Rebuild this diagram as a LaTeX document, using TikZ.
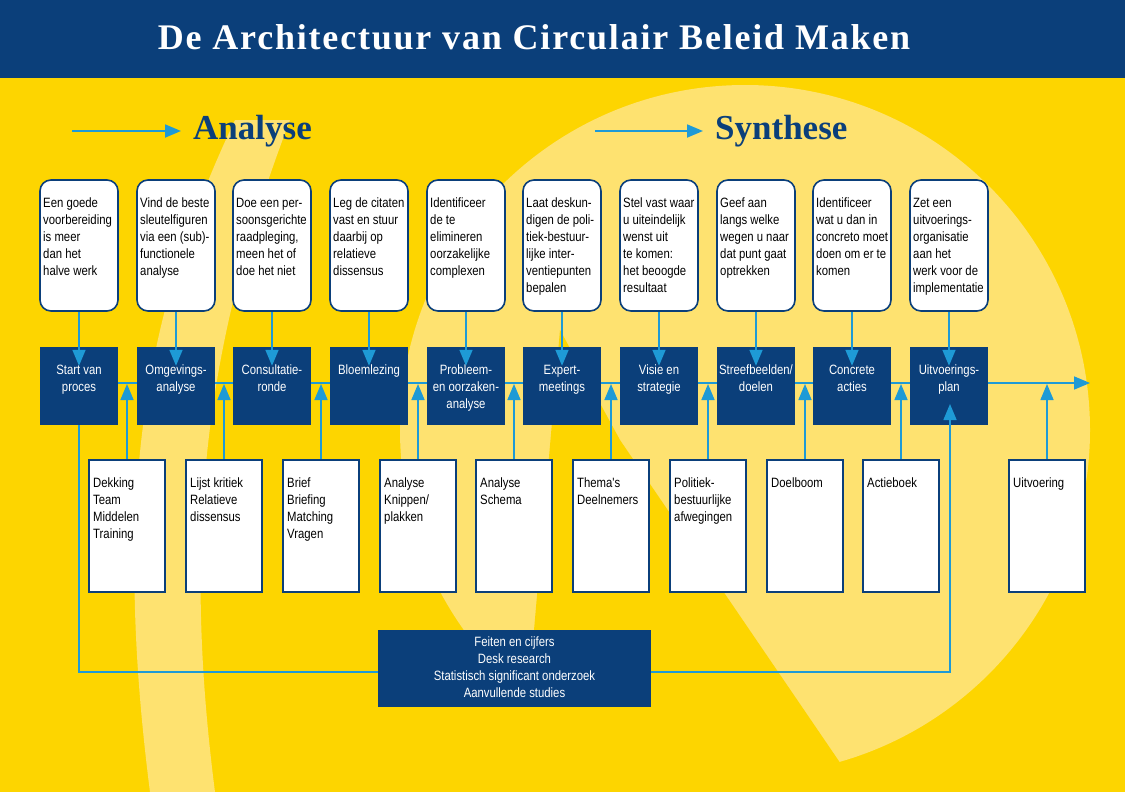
\documentclass[tikz,border=0pt]{standalone}
\usepackage{fontspec}
\setmainfont{Liberation Sans}
\newfontfamily\cond[FakeStretch=0.84]{Liberation Sans}
\newfontfamily\titlef[LetterSpace=5]{Liberation Serif}
\newfontfamily\headf{Liberation Serif}
\usetikzlibrary{arrows.meta}
\definecolor{dblue}{HTML}{0B3F7A}
\definecolor{lblue}{HTML}{1E9AD6}
\definecolor{yel}{HTML}{FDD500}
\definecolor{pale}{HTML}{FEE270}
\tikzset{
 topbox/.style={draw=dblue,line width=1.6pt,fill=white,rounded corners=11pt,minimum width=78pt,minimum height=131pt,inner sep=0},
 darkbox/.style={fill=dblue,minimum width=78pt,minimum height=78pt,inner sep=0},
 botbox/.style={draw=dblue,line width=1.6pt,fill=white,minimum width=76pt,minimum height=132pt,inner sep=0},
 ttxt/.style={anchor=north west,align=left,inner sep=0,font=\cond\fontsize{13.5}{17}\selectfont,text=black},
 dtxt/.style={anchor=north,align=center,inner sep=0,font=\cond\fontsize{13.5}{17}\selectfont,text=white},
 conn/.style={draw=lblue,line width=1.6pt},
 arr/.style={conn,-{Triangle[width=13pt,length=16pt]}},
}
\begin{document}
\begin{tikzpicture}[x=1pt,y=-1pt]
\useasboundingbox (0,0) rectangle (1125,792);
\fill[yel] (0,0) rectangle (1125,792);
\begin{scope}
\clip (0,78) rectangle (1125,792);
\fill[pale] (745,430) circle (345);
\fill[yel] (560,330) -- (620,440) -- (860,792) -- (520,792) -- cycle;
\fill[pale] (235,120) .. controls (150,300) and (110,480) .. (150,792) -- (215,792) .. controls (180,520) and (210,330) .. (290,120) -- cycle;
\end{scope}
\fill[dblue] (0,0) rectangle (1125,78);
\node[text=white,font=\titlef\bfseries\fontsize{36}{40}\selectfont] (title) at (534,37) {De Architectuur van Circulair Beleid Maken};
% headings
\coordinate (a1) at (72,131); \coordinate (a2) at (181,131);
\draw[lblue,line width=1.8pt,-{Triangle[width=13pt,length=16pt]}] (a1) -- (a2);
\node[anchor=west,text=dblue,font=\headf\bfseries\fontsize{35}{38}\selectfont,inner sep=0] (ana) at (193,131) {Analyse};
\coordinate (s1) at (595,131); \coordinate (s2) at (703,131);
\draw[lblue,line width=1.8pt,-{Triangle[width=13pt,length=16pt]}] (s1) -- (s2);
\node[anchor=west,text=dblue,font=\headf\bfseries\fontsize{35}{38}\selectfont,inner sep=0] (syn) at (715,131) {Synthese};
% main line
\coordinate (end) at (1090,383);
\draw[arr] (79,383) -- (end);
% feedback loop
\node[fill=dblue,minimum width=273pt,minimum height=77pt,inner sep=0] (feit) at (514.5,668.5) {};
\node[dtxt] (feittxt) at (514.5,637) {Feiten en cijfers\\Desk research\\Statistisch significant onderzoek\\Aanvullende studies};
% columns
\foreach \n/\x/\tt/\dt in {
 1/79/{Een goede\\voorbereiding\\is meer\\dan het\\halve werk}/{Start van\\proces},
 2/176/{Vind de beste\\sleutelfiguren\\via een (sub)-\\functionele\\analyse}/{Omgevings-\\analyse},
 3/272/{Doe een per-\\soonsgerichte\\raadpleging,\\meen het of\\doe het niet}/{Consultatie-\\ronde},
 4/369/{Leg de citaten\\vast en stuur\\daarbij op\\relatieve\\dissensus}/{Bloemlezing},
 5/466/{Identificeer\\de te\\elimineren\\oorzakelijke\\complexen}/{Probleem-\\en oorzaken-\\analyse},
 6/562/{Laat deskun-\\digen de poli-\\tiek-bestuur-\\lijke inter-\\ventiepunten\\bepalen}/{Expert-\\meetings},
 7/659/{Stel vast waar\\u uiteindelijk\\wenst uit\\te komen:\\het beoogde\\resultaat}/{Visie en\\strategie},
 8/756/{Geef aan\\langs welke\\wegen u naar\\dat punt gaat\\optrekken}/{Streefbeelden{/}\\doelen},
 9/852/{Identificeer\\wat u dan in\\concreto moet\\doen om er te\\komen}/{Concrete\\acties},
 10/949/{Zet een\\uitvoerings-\\organisatie\\aan het\\werk voor de\\implementatie}/{Uitvoerings-\\plan}}{
 \node[topbox] (t\n) at (\x,245.5) {};
 \node[ttxt] (tt\n) at (\x-36,198) {\tt};
 \node[darkbox] (d\n) at (\x,386) {};
 \node[dtxt] (dt\n) at (\x,365) {\dt};
 \draw[arr] (t\n.south) -- ([yshift=-19pt]d\n.north);
}
\foreach \n/\x/\bt in {
 1/127/{Dekking\\Team\\Middelen\\Training},
 2/224/{Lijst kritiek\\Relatieve\\dissensus},
 3/321/{Brief\\Briefing\\Matching\\Vragen},
 4/418/{Analyse\\Knippen{/}\\plakken},
 5/514/{Analyse\\Schema},
 6/611/{Thema's\\Deelnemers},
 7/708/{Politiek-\\bestuurlijke\\afwegingen},
 8/805/{Doelboom},
 9/901/{Actieboek},
 10/1047/{Uitvoering}}{
 \node[botbox] (b\n) at (\x,526) {};
 \node[ttxt] (bt\n) at (\x-34,478) {\bt};
 \coordinate (bl\n) at (\x,384);
 \draw[arr] (b\n.north) -- (bl\n);
}
\coordinate (f1) at (79,672);
\coordinate (f2) at (950,672);
\coordinate (f3) at (950,404);
\draw[conn] (d1.south) -- (f1) -- (f1 -| feit.west);
\draw[arr] (f2 -| feit.east) -- (f2) -- (f3);
\end{tikzpicture}
\end{document}
